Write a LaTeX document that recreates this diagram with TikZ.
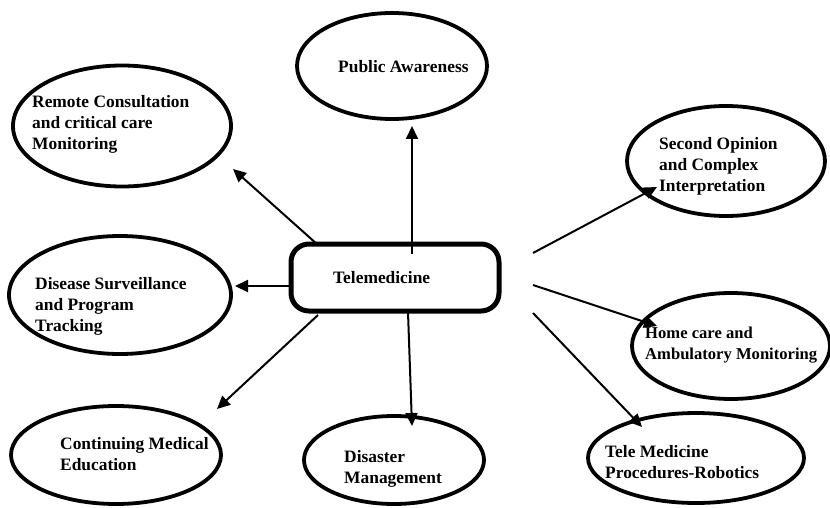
\documentclass[tikz,border=0pt]{standalone}
\usepackage{fontspec}
\setmainfont{Liberation Serif}
\usetikzlibrary{shapes.geometric,arrows.meta}
\begin{document}
\begin{tikzpicture}[x=1pt,y=-1pt,
  bubble/.style={draw=black,line width=3.8pt,ellipse,inner sep=0pt},
  lbl/.style={anchor=north west,inner sep=0pt,align=left,font=\fontsize{17.4}{21}\selectfont\bfseries},
  link/.style={line width=2pt,-{Triangle[length=13pt,width=12pt]}}]
\useasboundingbox (0,0) rectangle (830,508);
% centre box
\node[draw=black,line width=5pt,rounded corners=18pt,minimum width=208pt,minimum height=67pt,inner sep=0pt] (tele) at (395,277.5) {};
\node[lbl] (telet) at (333,271) {Telemedicine};
% ellipses
\node[bubble,minimum width=190pt,minimum height=106pt] (pa) at (392,66) {};
\node[lbl] (pat) at (338,60) {Public Awareness};
\node[bubble,minimum width=218pt,minimum height=121pt] (rc) at (122,126) {};
\node[lbl] (rct) at (32,95) {Remote Consultation\\and critical care\\Monitoring};
\node[bubble,minimum width=198pt,minimum height=110pt] (so) at (726,161) {};
\node[lbl] (sot) at (659,137) {Second Opinion\\and Complex\\Interpretation};
\node[bubble,minimum width=222pt,minimum height=118pt] (ds) at (120,295) {};
\node[lbl] (dst) at (35,277) {Disease Surveillance\\and Program\\Tracking};
\node[bubble,minimum width=198pt,minimum height=106pt] (hc) at (731,346) {};
\node[lbl,font=\fontsize{16.6}{21}\selectfont\bfseries] (hct) at (645,327) {Home care and\\Ambulatory Monitoring};
\node[bubble,minimum width=210pt,minimum height=98pt] (cm) at (116,455) {};
\node[lbl] (cmt) at (60,437) {Continuing Medical\\Education};
\node[bubble,minimum width=180pt,minimum height=88pt] (dm) at (394,460) {};
\node[lbl] (dmt) at (344,450) {Disaster\\Management};
\node[bubble,minimum width=216pt,minimum height=90pt] (tm) at (696,458) {};
\node[lbl] (tmt) at (605,445) {Tele Medicine\\Procedures-Robotics};
% arrow end points
\coordinate (s1) at (412,254); \coordinate (e1) at (412,126);
\coordinate (s2) at (318,245); \coordinate (e2) at (233,169);
\coordinate (s3) at (293,286); \coordinate (e3) at (235,286);
\coordinate (s4) at (318,315); \coordinate (e4) at (217,409);
\coordinate (s5) at (408,312); \coordinate (e5) at (412,426);
\coordinate (s6) at (533,253); \coordinate (e6) at (657,187);
\coordinate (s7) at (533,285); \coordinate (e7) at (657,326);
\coordinate (s8) at (533,313); \coordinate (e8) at (642,427);
\foreach \i in {1,...,8} {\draw[link] (s\i) -- (e\i);}
\end{tikzpicture}
\end{document}
